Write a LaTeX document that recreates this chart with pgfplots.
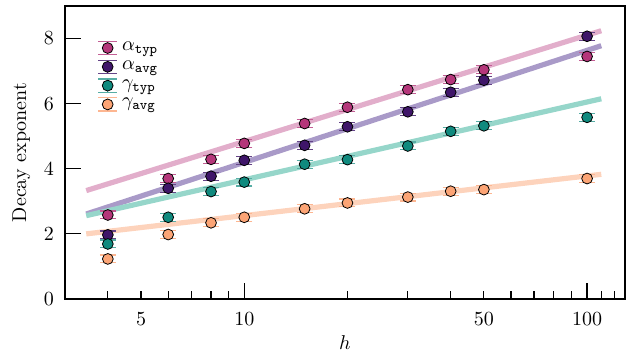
\documentclass[border=0pt]{standalone}
\usepackage{pgfplots}
\pgfplotsset{compat=1.18}
\usetikzlibrary{calc}
\definecolor{ctyp}{HTML}{B5367A}
\definecolor{cavg}{HTML}{3F1569}
\definecolor{gtyp}{HTML}{0F8A7E}
\definecolor{gavg}{HTML}{FCA475}
\definecolor{ctypL}{HTML}{E2AECB}
\definecolor{cavgL}{HTML}{A99AC8}
\definecolor{gtypL}{HTML}{96D6CA}
\definecolor{gavgL}{HTML}{FDD3BC}
\pgfplotsset{
  ser/.style 2 args={only marks, mark=*, mark size=2.7pt,
    mark options={fill=#1, draw=black, line width=0.4pt},
    error bars/.cd, y dir=both, y explicit,
    error bar style={line width=0.6pt, color=#2},
    error mark options={rotate=90, mark size=4pt, line width=0.6pt, color=#2},
    /pgfplots/.cd},
  fitline/.style={no marks, line width=2.6pt, color=#1},
  legimg/.style 2 args={legend image code/.code={
    \draw[line width=0.6pt, draw=#2] (8.5pt,-3.3pt) -- (8.5pt,3.3pt);
    \draw[line width=0.6pt, draw=#2] (3.9pt,-3.3pt) -- (13.1pt,-3.3pt);
    \draw[line width=0.6pt, draw=#2] (3.9pt,3.3pt) -- (13.1pt,3.3pt);
    \draw[fill=#1, draw=black, line width=0.4pt] (8.5pt,0pt) circle (2.7pt);
  }},
}
\begin{document}
\begin{tikzpicture}
\begin{axis}[
  scale only axis, width=280pt, height=146.5pt,
  xmode=log, xmin=3, xmax=129, ymin=0, ymax=9,
  xtick={10,100}, xticklabels={10,100},
  extra x ticks={5,50}, extra x tick labels={5,50},
  extra x tick style={major tick length=4pt},
  minor xtick={4,6,7,8,9,20,30,40,60,70,80,90,110,120},
  ytick={0,2,4,6,8},
  tick align=inside, major tick length=8pt, minor tick length=4pt,
  xtick pos=bottom, ytick pos=left,
  tick style={line width=0.6pt, black},
  axis line style={line width=1pt},
  xticklabel style={yshift=-3pt},
  yticklabel style={xshift=-2pt},
  xlabel={$h$}, ylabel={Decay exponent},
  xlabel style={yshift=2pt},
  log ticks with fixed point,
  legend style={at={(0.058,0.89)}, anchor=north west, draw=none, fill=none,
    row sep=0pt, inner sep=0pt, font=\normalsize,
    nodes={inner sep=0.3pt, text height=5.6pt, text depth=3.2pt},
    /tikz/every odd column/.append style={column sep=2pt}},
  legend cell align=left,
]
\addplot[fitline=ctypL, forget plot] coordinates {(3.46,3.33) (110,8.24)};
\addplot[fitline=cavgL, forget plot] coordinates {(3.46,2.61) (110,7.78)};
\addplot[fitline=gtypL, forget plot] coordinates {(3.46,2.56) (110,6.15)};
\addplot[fitline=gavgL, forget plot] coordinates {(3.46,2.00) (110,3.83)};

\addplot[forget plot, ser={ctyp}{ctyp!80!white}] coordinates {
(4,2.58) +- (0,0.12) (6,3.70) +- (0,0.12) (8,4.29) +- (0,0.12) (10,4.78) +- (0,0.12) (15,5.39) +- (0,0.12)
(20,5.89) +- (0,0.12) (30,6.43) +- (0,0.12) (40,6.74) +- (0,0.12) (50,7.04) +- (0,0.12) (100,7.45) +- (0,0.12)};
\addplot[forget plot, ser={cavg}{cavg!80!white}] coordinates {
(4,1.97) +- (0,0.12) (6,3.40) +- (0,0.12) (8,3.77) +- (0,0.12) (10,4.26) +- (0,0.12) (15,4.72) +- (0,0.12)
(20,5.29) +- (0,0.12) (30,5.75) +- (0,0.12) (40,6.35) +- (0,0.12) (50,6.72) +- (0,0.12) (100,8.07) +- (0,0.12)};
\addplot[forget plot, ser={gtyp}{gtyp!70!white}] coordinates {
(4,1.69) +- (0,0.12) (6,2.51) +- (0,0.12) (8,3.30) +- (0,0.12) (10,3.59) +- (0,0.12) (15,4.14) +- (0,0.12)
(20,4.28) +- (0,0.12) (30,4.70) +- (0,0.12) (40,5.15) +- (0,0.12) (50,5.32) +- (0,0.12) (100,5.58) +- (0,0.12)};
\addplot[forget plot, ser={gavg}{gavg!80!white}] coordinates {
(4,1.23) +- (0,0.12) (6,1.98) +- (0,0.12) (8,2.34) +- (0,0.12) (10,2.51) +- (0,0.12) (15,2.77) +- (0,0.12)
(20,2.95) +- (0,0.12) (30,3.13) +- (0,0.12) (40,3.31) +- (0,0.12) (50,3.36) +- (0,0.12) (100,3.70) +- (0,0.12)};

\addlegendimage{legimg={ctyp}{ctyp!80!white}}
\addlegendentry{$\alpha_{\mathtt{typ}}$}
\addlegendimage{legimg={cavg}{cavg!80!white}}
\addlegendentry{$\alpha_{\mathtt{avg}}$}
\addlegendimage{legimg={gtyp}{gtyp!70!white}}
\addlegendentry{$\gamma_{\mathtt{typ}}$}
\addlegendimage{legimg={gavg}{gavg!80!white}}
\addlegendentry{$\gamma_{\mathtt{avg}}$}
\end{axis}
\pgfresetboundingbox
\path[use as bounding box] ($(current axis.south west)+(-32.5pt,-29.5pt)$) rectangle ($(current axis.north east)+(9.5pt,3pt)$);
\end{tikzpicture}
\end{document}
